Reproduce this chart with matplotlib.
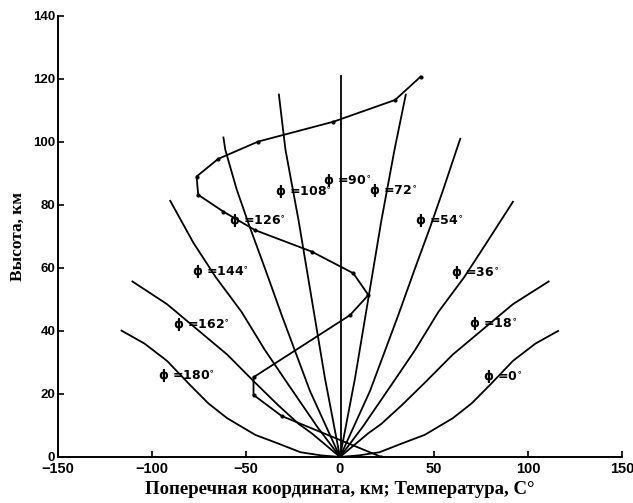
import matplotlib
matplotlib.use('Agg')
import matplotlib.pyplot as plt

# ray trajectories (transverse coordinate, km ; height, km)
ray_0_x = [0, 10, 21, 33, 45, 60, 70, 80, 92, 104, 116]
ray_0_y = [0, 0.5, 1.5, 4.3, 7.0, 12.3, 17.0, 23.0, 30.5, 36.0, 40.0]
ray_18_x = [0, 15, 22, 33, 45, 60, 75, 92, 111]
ray_18_y = [0, 7.5, 10.5, 16.5, 23.5, 32.5, 40.0, 48.5, 55.7]
ray_36_x = [0, 12, 27.5, 40, 52.3, 66, 78, 92]
ray_36_y = [0, 9.5, 23.0, 34.0, 46.0, 57.0, 68.0, 81.0]
ray_54_x = [0, 16, 31, 40, 48, 55, 62, 64]
ray_54_y = [0, 21, 45, 60, 73, 85, 97.5, 101]
ray_72_x = [0, 8, 15, 22, 29, 35]
ray_72_y = [0, 25, 50, 75, 97.5, 115]
ray_90_x = [0.5, 0.5]
ray_90_y = [0, 121]
ray_108_x = [0, -8, -15, -22, -29, -32.5]
ray_108_y = [0, 25, 50, 75, 97.5, 115]
ray_126_x = [0, -16, -31, -40, -48, -55, -61, -62]
ray_126_y = [0, 21, 45, 60, 73, 85, 97.5, 101.4]
ray_144_x = [0, -12, -27.5, -40, -52.3, -66, -78, -90.3]
ray_144_y = [0, 9.5, 23.0, 34.0, 46.0, 57.0, 68.0, 81.3]
ray_162_x = [0, -15, -22, -33, -45, -60, -75, -92, -110.4]
ray_162_y = [0, 7.5, 10.5, 16.5, 23.5, 32.5, 40.0, 48.5, 55.7]
ray_180_x = [0, -10, -21, -33, -45, -60, -70, -80, -92, -104, -116.2]
ray_180_y = [0, 0.5, 1.5, 4.3, 7.0, 12.3, 17.0, 23.0, 30.5, 36.0, 40.1]

# temperature profile (deg C ; height, km)
temp_t = [22, -31, -46, -46, 5.3, 15.1, 7.1, -15.1, -45.2, -62.1, -75.4,
          -76.3, -64.8, -43.5, -3.5, 29.3, 42.9]
temp_h = [0, 13, 19.7, 25.3, 45, 51.4, 58.3, 65.2, 72, 77.9, 83.2,
          89, 94.6, 100.1, 106.4, 113.3, 120.7]

# label anchors (centre of the phi sign)
label_angles = [0, 18, 36, 54, 72, 90, 108, 126, 144, 162, 180]
label_x = [78, 70.4, 61.2, 41.7, 17.4, -7.1, -32.5, -57.1, -76.6, -86.9, -94.9]
label_y = [25.5, 42.4, 58.5, 74.9, 84.5, 87.9, 84.4, 74.9, 58.8, 41.9, 25.7]

rays = [(ray_0_x, ray_0_y), (ray_18_x, ray_18_y), (ray_36_x, ray_36_y),
        (ray_54_x, ray_54_y), (ray_72_x, ray_72_y), (ray_90_x, ray_90_y),
        (ray_108_x, ray_108_y), (ray_126_x, ray_126_y), (ray_144_x, ray_144_y),
        (ray_162_x, ray_162_y), (ray_180_x, ray_180_y)]

fig = plt.figure(figsize=(6.33, 5.03), dpi=100)
ax = fig.add_axes([0.0916, 0.0915, 0.891, 0.877])

for rx, ry in rays:
    ax.plot(rx, ry, color='black', lw=1.3)

ax.plot(temp_t, temp_h, color='black', lw=1.3, marker='o', markersize=2)

for a, lx, ly in zip(label_angles, label_x, label_y):
    ax.text(lx - 2, ly, 'ϕ =%d$^{\\circ}$' % a, fontsize=9, fontweight='bold',
            ha='left', va='center', family=['DejaVu Sans'])

ax.set_xlim(-150, 150)
ax.set_ylim(0, 140)
ax.set_xticks([-150, -100, -50, 0, 50, 100, 150])
ax.set_yticks([0, 20, 40, 60, 80, 100, 120, 140])

ax.spines['top'].set_visible(False)
ax.spines['right'].set_visible(False)
ax.spines['left'].set_linewidth(1.4)
ax.spines['bottom'].set_linewidth(1.4)
ax.tick_params(direction='in', length=4, width=1.2)
ax.tick_params(axis='x', pad=3.5)
ax.tick_params(axis='y', pad=2)
for lab in ax.get_xticklabels():
    lab.set_fontweight('bold')
    lab.set_family('Liberation Sans')
    lab.set_fontsize(10.5)
for lab in ax.get_yticklabels():
    lab.set_fontweight('bold')
    lab.set_family('Liberation Sans')
    lab.set_fontsize(9.5)

ax.set_xlabel('Поперечная координата, км; Температура, С°', fontsize=13.5,
              fontweight='bold', family='Liberation Serif', labelpad=4)
ax.set_ylabel('Высота, км', fontsize=12.5, fontweight='bold',
              family='Liberation Serif', labelpad=5)

fig.savefig('out.png', dpi=100)
